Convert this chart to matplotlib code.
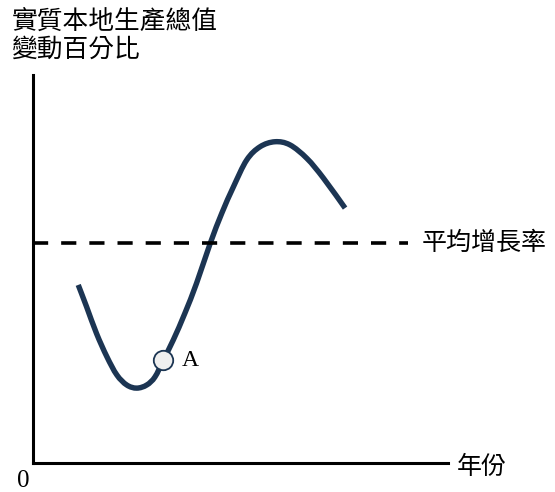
import matplotlib
matplotlib.use("Agg")
import matplotlib.pyplot as plt
from matplotlib.path import Path
from matplotlib.patches import PathPatch

plt.rcParams['font.family'] = ['Noto Sans CJK TC', 'DejaVu Sans']
plt.rcParams['font.weight'] = 'light'

# cycle curve (year index, growth %)
years = [1.09, 1.29, 1.53, 1.78, 2.02, 2.26, 2.50, 2.74, 2.94, 3.14, 3.38, 3.66,
         3.94, 4.27, 4.55, 4.83, 5.15, 5.47, 5.83, 6.19, 6.60, 7.00, 7.52]
growth = [4.59, 4.03, 3.34, 2.74, 2.27, 2.01, 1.93, 2.01, 2.22, 2.65, 3.17, 3.86,
          4.63, 5.66, 6.44, 7.12, 7.81, 8.15, 8.28, 8.20, 7.85, 7.34, 6.57]
avg_growth = 5.67
avg_end = 9.04
point_a = (3.14, 2.65)

ylabel_text = "實質本地生產總值\n變動百分比"
xlabel_text = "年份"
avg_label = "平均增長率"

navy = '#1c3553'


def smooth_path(xs, ys):
    # draw the read points as a smooth bezier curve (catmull-rom tangents)
    pts = list(zip(xs, ys))
    n = len(pts)
    verts = [pts[0]]
    codes = [Path.MOVETO]
    for i in range(n - 1):
        p0 = pts[i - 1] if i > 0 else pts[i]
        p1 = pts[i]
        p2 = pts[i + 1]
        p3 = pts[i + 2] if i + 2 < n else pts[i + 1]
        c1 = (p1[0] + (p2[0] - p0[0]) / 6, p1[1] + (p2[1] - p0[1]) / 6)
        c2 = (p2[0] - (p3[0] - p1[0]) / 6, p2[1] - (p3[1] - p1[1]) / 6)
        verts += [c1, c2, p2]
        codes += [Path.CURVE4] * 3
    return Path(verts, codes)


fig = plt.figure(figsize=(5.55, 4.92), dpi=100)
ax = fig.add_axes([33/555, 29/492, 415/555, 388/492])
ax.set_xlim(0, 10)
ax.set_ylim(0, 10)

for s in ['top', 'right']:
    ax.spines[s].set_visible(False)
for s in ['left', 'bottom']:
    ax.spines[s].set_linewidth(2.2)
    ax.spines[s].set_color('black')
ax.set_xticks([])
ax.set_yticks([])

ax.hlines(avg_growth, 0, avg_end, colors='black', linewidth=2.6,
          linestyles=(0, (4.2, 3.6)))
curve = PathPatch(smooth_path(years, growth), fill=False, edgecolor=navy,
                  linewidth=3.9, capstyle='butt', joinstyle='round')
ax.add_patch(curve)
ax.plot([point_a[0]], [point_a[1]], 'o', markersize=14, markerfacecolor='#efefef',
        markeredgecolor=navy, markeredgewidth=1.3, zorder=5)

ax.text(point_a[0] + 0.45, point_a[1], "A", fontsize=17, family='Liberation Serif',
        va='center', ha='left')
ax.text(avg_end + 0.33, avg_growth, avg_label, fontsize=18, va='center', ha='left',
        clip_on=False)
ax.text(10.22, -0.1, xlabel_text, fontsize=18, va='center', ha='left', clip_on=False)
ax.text(-0.24, -0.46, "0", fontsize=18, family='Liberation Serif', va='center',
        ha='center', clip_on=False)
ax.text(-0.52, 11.7, ylabel_text, fontsize=18.5, va='top', ha='left', linespacing=1.1,
        clip_on=False)

fig.savefig("out.png", dpi=100)
